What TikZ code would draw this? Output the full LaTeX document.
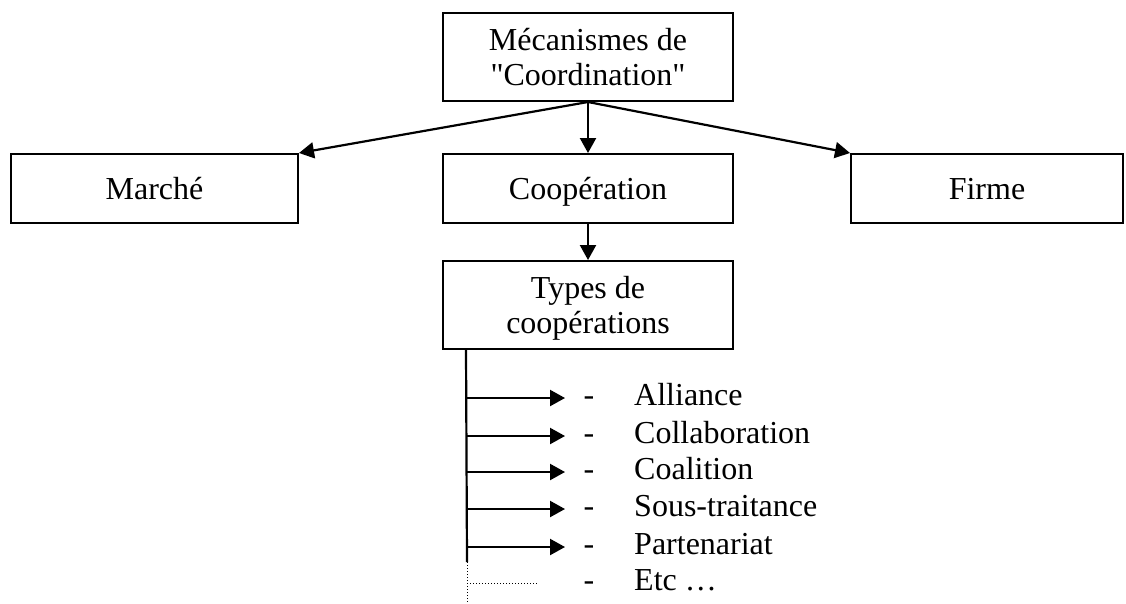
\documentclass[tikz,border=0pt]{standalone}
\usepackage{fontspec}
\setmainfont{Liberation Serif}[Ligatures=TeXOff]
\usetikzlibrary{arrows.meta}
\begin{document}
\begin{tikzpicture}[x=1pt, y=-1pt, >={Triangle[length=15pt,width=16pt]},
    every node/.style={font=\fontsize{32}{35}\selectfont, inner sep=0pt},
    box/.style={draw, line width=2pt, align=center, text depth=0pt},
    conn/.style={->, line width=2.2pt}]
\useasboundingbox (0,0) rectangle (1126,603);
% boxes
\node[box, minimum width=290pt, minimum height=88pt, text depth=-10pt] (meca) at (588,57) {Mécanismes de\\"Coordination"};
\node[box, minimum width=287pt, minimum height=69pt] (marche) at (154.5,188.5) {Marché};
\node[box, minimum width=290pt, minimum height=69pt] (coop) at (588,188.5) {Coopération};
\node[box, minimum width=272pt, minimum height=69pt] (firme) at (987,188.5) {Firme};
\node[box, minimum width=290pt, minimum height=88pt, text depth=-8pt] (types) at (588,305) {Types de\\coopérations};

\draw[conn] (meca.south)--(marche.north east);
\draw[conn] (meca.south)--(coop.north);
\draw[conn] (meca.south)--(firme.north west);
\draw[conn] (coop.south)--(types.north);

% list of types
\coordinate (trunk) at ([xshift=24pt]types.south west);
\coordinate (trunkend) at (467,562);
\coordinate (trunkbot) at (467,603);
\draw[line width=2.2pt] (trunk)--(trunkend);
\draw[dotted, line width=1pt] (trunkend)--(trunkbot);
\foreach \y/\t in {398/Alliance, 436/Collaboration, 472/Coalition, 509/Sous-traitance, 547/Partenariat}
{
    \coordinate (s\y) at (467,\y);
    \coordinate (e\y) at (565,\y);
    \draw[conn] (s\y)--(e\y);
    \node[anchor=base] (d\y) at (589,\y+7.5) {-};
    \node[anchor=base west] (t\y) at (634,\y+7.5) {\t};
}
\coordinate (s583) at (467,583);
\coordinate (e583) at (538,583);
\draw[dotted, line width=1pt] (s583)--(e583);
\node[anchor=base] (d583) at (589,590.5) {-};
\node[anchor=base west] (t583) at (634,590.5) {Etc …};
\end{tikzpicture}
\end{document}
